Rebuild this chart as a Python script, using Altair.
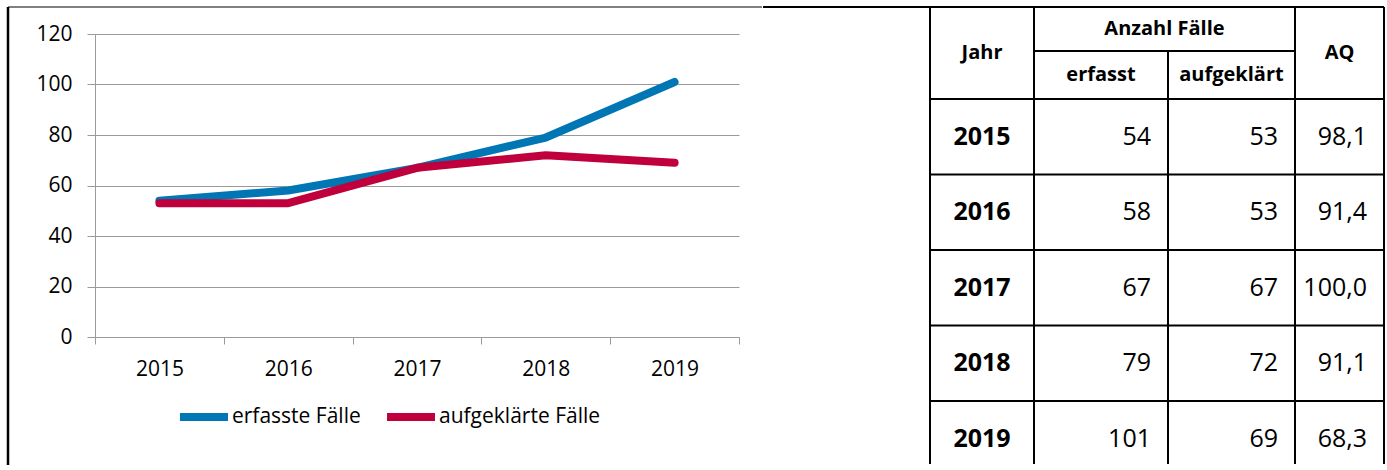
import altair as alt
import pandas as pd

# ---------------- data ----------------
years = [2015, 2016, 2017, 2018, 2019]
erfasst = [54, 58, 67, 79, 101]
aufgeklaert = [53, 53, 67, 72, 69]
aq = [98.1, 91.4, 100.0, 91.1, 68.3]
series_names = ["erfasste Fälle", "aufgeklärte Fälle"]
y_ticks = [0, 20, 40, 60, 80, 100, 120]
header_texts = ["Jahr", "Anzahl Fälle", "erfasst", "aufgeklärt", "AQ"]

# ---------------- styles ----------------
FONT = "Open Sans"
GRID = "#9a9a9a"
series_colors = ["#0076b5", "#c0003c"]

# ---------------- line chart ----------------
W, H = 644, 303
lines_df = pd.DataFrame({
    "Jahr": [str(y) for y in years] * 2,
    "Wert": erfasst + aufgeklaert,
    "Serie": [series_names[0]] * len(years) + [series_names[1]] * len(years),
})

x_enc = alt.X(
    "Jahr:N",
    bandPosition=0.5,
    scale=alt.Scale(type="band", paddingInner=0, paddingOuter=0),
    axis=alt.Axis(title=None, labelAngle=0, tickBand="extent", tickSize=7,
                  tickColor=GRID, domainColor=GRID, labelFontSize=21,
                  labelPadding=14, labelColor="black", labelFont=FONT, grid=False),
)
y_enc = alt.Y(
    "Wert:Q",
    scale=alt.Scale(domain=[0, 120], nice=False),
    axis=alt.Axis(title=None, values=y_ticks, tickSize=8, tickColor=GRID,
                  domainColor=GRID, gridColor=GRID, grid=True, labelFontSize=21,
                  labelPadding=15, labelColor="black", labelFont=FONT),
)
color_enc = alt.Color(
    "Serie:N",
    scale=alt.Scale(domain=series_names, range=series_colors),
    legend=alt.Legend(title=None, orient="none", legendX=81, legendY=355,
                      direction="horizontal", symbolType="stroke",
                      symbolStrokeWidth=8, symbolSize=2304, labelFontSize=21,
                      labelFont=FONT, labelColor="black", labelOffset=0,
                      labelLimit=400, columnPadding=10),
)

base = alt.Chart(lines_df)
line_blue = base.transform_filter(alt.datum.Serie == series_names[0]).mark_line(
    strokeWidth=8, strokeCap="round", strokeJoin="round"
).encode(x=x_enc, y=y_enc, color=color_enc)
line_red = base.transform_filter(alt.datum.Serie == series_names[1]).mark_line(
    strokeWidth=8, strokeCap="round", strokeJoin="round"
).encode(x=x_enc, y=y_enc, color=color_enc)

frame_src = alt.Chart(pd.DataFrame({"k": [0]}))
box_left = frame_src.mark_rule(color="black", strokeWidth=2.5).encode(
    x=alt.value(-87), y=alt.value(-27), y2=alt.value(431))
box_top = frame_src.mark_rule(color="black", strokeWidth=1).encode(
    x=alt.value(-87), x2=alt.value(667), y=alt.value(-27))

left = alt.layer(line_blue, line_red, box_left, box_top).properties(width=W, height=H)

# ---------------- table ----------------
TW, TH = 621, 457
TOP_SHIFT = 27
col_edges = [167, 271, 405, 532, 621]
head_split, head_h, row_h = 44, 92, 75.5
pad_r = 17

segs = [(0, TW, 0, 0)]
segs += [(col_edges[0], col_edges[0], 0, TH), (col_edges[1], col_edges[1], 0, TH),
         (col_edges[2], col_edges[2], head_split, TH), (col_edges[3], col_edges[3], 0, TH),
         (col_edges[4], col_edges[4], 0, TH)]
segs += [(col_edges[1], col_edges[3], head_split, head_split)]
segs += [(col_edges[0], col_edges[4], head_h + row_h * i, head_h + row_h * i) for i in range(len(years))]
rules_df = pd.DataFrame(segs, columns=["x", "x2", "y", "y2"])

tx = alt.Scale(domain=[0, TW], nice=False, zero=False)
ty = alt.Scale(domain=[0, TH], range=[-TOP_SHIFT, TH - TOP_SHIFT], nice=False, zero=False)

rules = alt.Chart(rules_df).mark_rule(color="black", strokeWidth=2).encode(
    x=alt.X("x:Q", scale=tx, axis=None), x2="x2:Q",
    y=alt.Y("y:Q", scale=ty, axis=None), y2="y2:Q")

def mid(a, b):
    return (a + b) / 2

head_df = pd.DataFrame({
    "t": header_texts,
    "x": [mid(col_edges[0], col_edges[1]), mid(col_edges[1], col_edges[3]),
          mid(col_edges[1], col_edges[2]), mid(col_edges[2], col_edges[3]),
          mid(col_edges[3], col_edges[4])],
    "y": [head_h / 2, head_split / 2, mid(head_split, head_h), mid(head_split, head_h), head_h / 2],
})
head_txt = alt.Chart(head_df).mark_text(font=FONT, fontSize=20, fontWeight="bold",
                                         align="center", baseline="middle", color="black").encode(
    x=alt.X("x:Q", scale=tx, axis=None), y=alt.Y("y:Q", scale=ty, axis=None), text="t:N")

row_y = [head_h + row_h * (i + 0.5) for i in range(len(years))]
year_df = pd.DataFrame({"t": [str(y) for y in years],
                        "x": [mid(col_edges[0], col_edges[1])] * len(years), "y": row_y})
year_txt = alt.Chart(year_df).mark_text(font=FONT, fontSize=25, fontWeight="bold",
                                         align="center", baseline="middle", color="black").encode(
    x=alt.X("x:Q", scale=tx, axis=None), y=alt.Y("y:Q", scale=ty, axis=None), text="t:N")

num_df = pd.DataFrame({
    "t": [str(v) for v in erfasst] + [str(v) for v in aufgeklaert]
         + [f"{v:.1f}".replace(".", ",") for v in aq],
    "x": [col_edges[2] - pad_r] * len(years) + [col_edges[3] - pad_r] * len(years)
         + [col_edges[4] - pad_r] * len(years),
    "y": row_y * 3,
})
num_txt = alt.Chart(num_df).mark_text(font=FONT, fontSize=25, align="right",
                                       baseline="middle", color="black").encode(
    x=alt.X("x:Q", scale=tx, axis=None), y=alt.Y("y:Q", scale=ty, axis=None), text="t:N")

table = alt.layer(rules, head_txt, year_txt, num_txt).properties(width=TW, height=TH - TOP_SHIFT)

chart = alt.hconcat(left, table, spacing=-3).properties(
    padding={"left": 6, "top": 5, "right": 0, "bottom": 0}
).configure(font=FONT).configure_view(stroke=None)

chart.save("out.html", embed_options={"renderer": "svg", "actions": False})
